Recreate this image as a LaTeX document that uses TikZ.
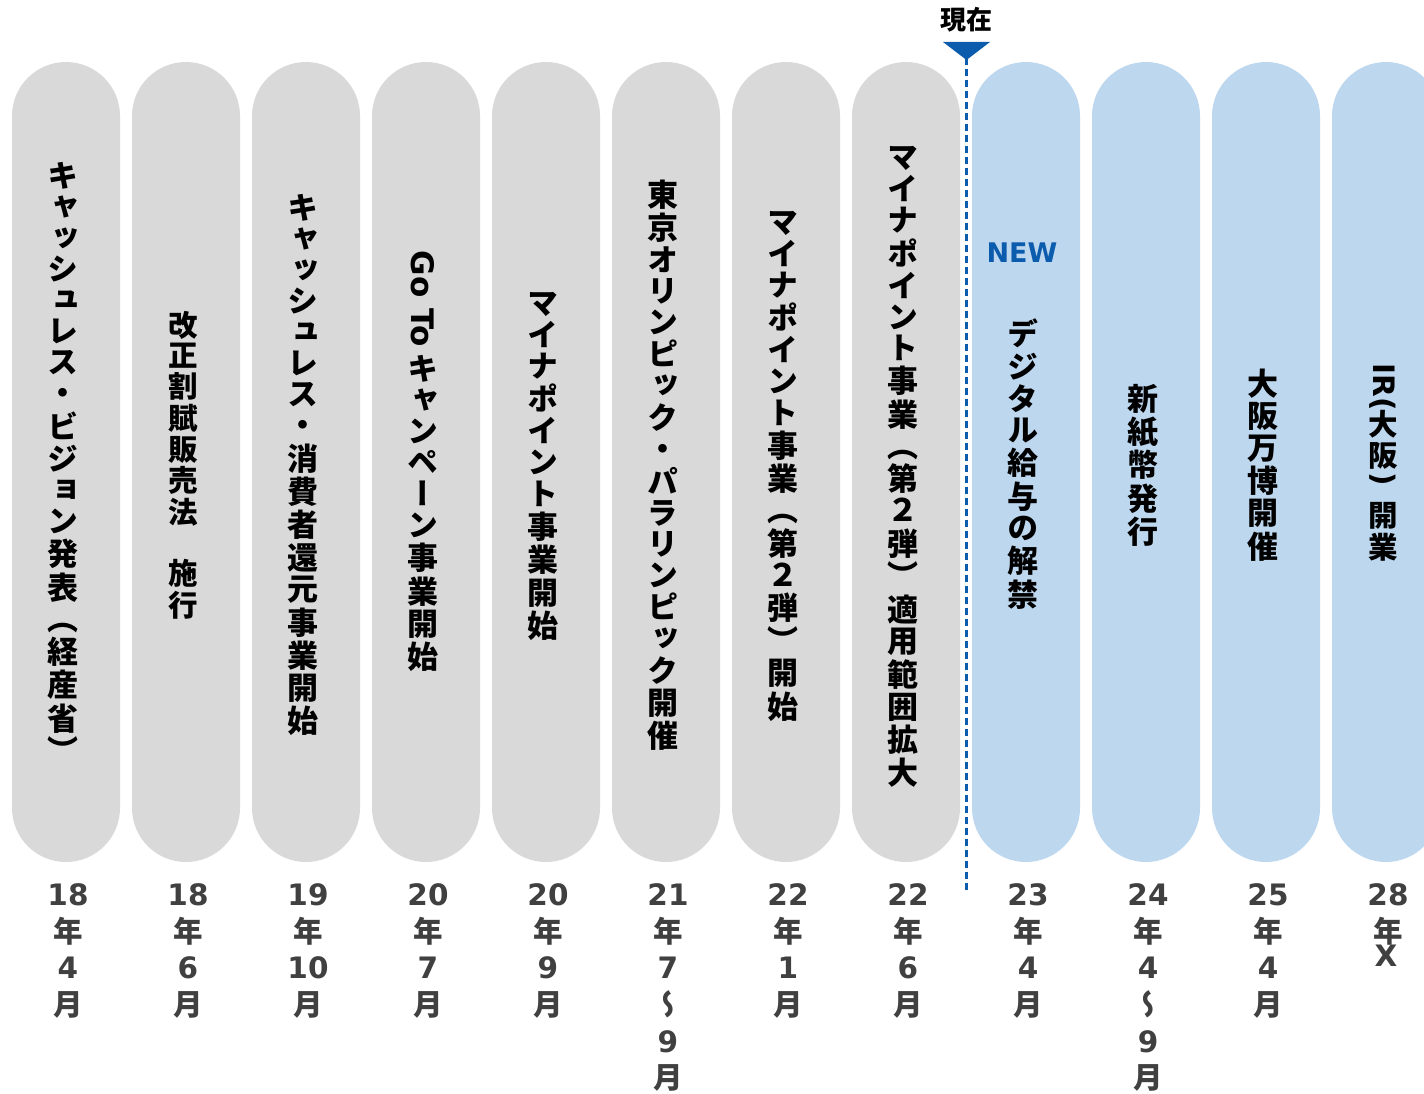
\documentclass[tikz,border=0pt]{standalone}
\usepackage{graphicx}
\usepackage{fontspec}
\setmainfont{DejaVu Sans}
\newfontfamily\jp{Noto Sans CJK JP}[RawFeature=+vert]
\newfontfamily\latf{DejaVu Sans}
\definecolor{pillgray}{HTML}{D9D9D9}
\definecolor{pillblue}{HTML}{BDD7EE}
\definecolor{nowblue}{HTML}{0B5CAD}
\definecolor{datecol}{HTML}{404040}

\newdimen\vpitch
\def\vstackend{\vstackend}
\def\vgap{\vgap}
\def\vsgap{\vsgap}
\newcommand\vstack[2]{\vbox{\offinterlineskip\vpitch=#1\relax\vstackloop#2\vstackend}}
\def\vstackloop#1{%
  \ifx\vstackend#1\let\vnext\relax
  \else
    \ifx\vgap#1\vskip\vpitch
    \else
      \ifx\vsgap#1\vskip.3\vpitch
      \else\vitem{#1}\fi
    \fi
    \let\vnext\vstackloop
  \fi\vnext}
\newcommand\vitem[1]{\hbox to 1.3em{\hss\vrule height .78\vpitch depth .22\vpitch width 0pt\relax#1\hss}}
\newcommand\vlat[1]{{\latf\raisebox{.78\vpitch}{\rotatebox{-90}{#1}}}}
\newcommand\dg[1]{{\latf #1}}

\begin{document}
\begin{tikzpicture}[x=1pt,y=-1pt,
  pill/.style={rounded corners=54pt, minimum width=108pt, minimum height=800pt, inner sep=0pt, draw=none},
  past/.style={pill, fill=pillgray},
  future/.style={pill, fill=pillblue},
  ptext/.style={inner sep=0pt, text=black, font=\jp\bfseries\fontsize{31}{31}\selectfont},
  ptextsm/.style={inner sep=0pt, text=black, font=\jp\bfseries\fontsize{29.5}{29.5}\selectfont},
  dtext/.style={inner sep=0pt, anchor=north, text=datecol, font=\jp\bfseries\fontsize{29.5}{29.5}\selectfont},
  nowline/.style={draw=nowblue, line width=3pt, dash pattern=on 7pt off 4pt}
]
\useasboundingbox (0,0) rectangle (1424,1094);

% pills
\node[past]   (p1)  at (66,462)   {};
\node[past]   (p2)  at (186,462)  {};
\node[past]   (p3)  at (306,462)  {};
\node[past]   (p4)  at (426,462)  {};
\node[past]   (p5)  at (546,462)  {};
\node[past]   (p6)  at (666,462)  {};
\node[past]   (p7)  at (786,462)  {};
\node[past]   (p8)  at (906,462)  {};
\node[future] (p9)  at (1026,462) {};
\node[future] (p10) at (1146,462) {};
\node[future] (p11) at (1266,462) {};
\node[future] (p12) at (1386,462) {};

% pill texts
\node[ptext] (t1) at (63,466) {\vstack{31pt}{キャッシュレス・ビジョン発表（経産省）}};
\node[ptextsm] (t2) at (183,467) {\vstack{29.5pt}{改正割賦販売法\vgap 施行}};
\node[ptext] (t3) at (303,467) {\vstack{31pt}{キャッシュレス・消費者還元事業開始}};
\node[ptext] (t4) at (423,463) {\vstack{31pt}{{\vlat{Go To}}\vsgap キャンペーン事業開始}};
\node[ptext] (t5) at (543,467) {\vstack{31pt}{マイナポイント事業開始}};
\node[ptext] (t6) at (663,467) {\vstack{31pt}{東京オリンピック・パラリンピック開催}};
\node[ptext] (t7) at (783,467) {\vstack{31pt}{マイナポイント事業（第２弾）開始}};
\node[ptext] (t8) at (903,468) {\vstack{31pt}{マイナポイント事業（第２弾）適用範囲拡大}};
\node[ptext] (t9) at (1023,466) {\vstack{31pt}{デジタル給与の解禁}};
\node[ptext] (t10) at (1143,467) {\vstack{31pt}{新紙幣発行}};
\node[ptext] (t11) at (1263,467) {\vstack{31pt}{大阪万博開催}};
\node[ptextsm] (t12) at (1383,464) {\vstack{29.5pt}{{\vlat{IR(}}大阪{\vlat{)}}開業}};

\node[inner sep=0pt, text=nowblue, font=\latf\bfseries\fontsize{27}{27}\selectfont] (new) at (1022,253) {NEW};

% dates
\node[dtext] (d1)  at (68,877)   {\vstack{36.6pt}{{\dg{18}}年{\dg{4}}月}};
\node[dtext] (d2)  at (188,877)  {\vstack{36.6pt}{{\dg{18}}年{\dg{6}}月}};
\node[dtext] (d3)  at (308,877)  {\vstack{36.6pt}{{\dg{19}}年{\dg{10}}月}};
\node[dtext] (d4)  at (428,877)  {\vstack{36.6pt}{{\dg{20}}年{\dg{7}}月}};
\node[dtext] (d5)  at (548,877)  {\vstack{36.6pt}{{\dg{20}}年{\dg{9}}月}};
\node[dtext] (d6)  at (668,877)  {\vstack{36.6pt}{{\dg{21}}年{\dg{7}}〜{\dg{9}}月}};
\node[dtext] (d7)  at (788,877)  {\vstack{36.6pt}{{\dg{22}}年{\dg{1}}月}};
\node[dtext] (d8)  at (908,877)  {\vstack{36.6pt}{{\dg{22}}年{\dg{6}}月}};
\node[dtext] (d9)  at (1028,877) {\vstack{36.6pt}{{\dg{23}}年{\dg{4}}月}};
\node[dtext] (d10) at (1148,877) {\vstack{36.6pt}{{\dg{24}}年{\dg{4}}〜{\dg{9}}月}};
\node[dtext] (d11) at (1268,877) {\vstack{36.6pt}{{\dg{25}}年{\dg{4}}月}};
\node[dtext] (d12) at (1388,877) {\vstack{36.6pt}{{\dg{28}}年}};
\node[inner sep=0pt, text=datecol, font=\latf\bfseries\fontsize{29.5}{29.5}\selectfont] (d12x) at (1386,956) {X};

% now marker
\node[inner sep=0pt, text=black, font=\jp\bfseries\fontsize{26}{26}\selectfont] (now) at (966.5,20) {現在};
\fill[nowblue] (943,42) -- (990,42) -- (966.5,60) -- cycle;
\coordinate (nowtop) at (966.5,58);
\coordinate (nowbot) at (966.5,891);
\draw[nowline] (nowtop) -- (nowbot);
\end{tikzpicture}
\end{document}
